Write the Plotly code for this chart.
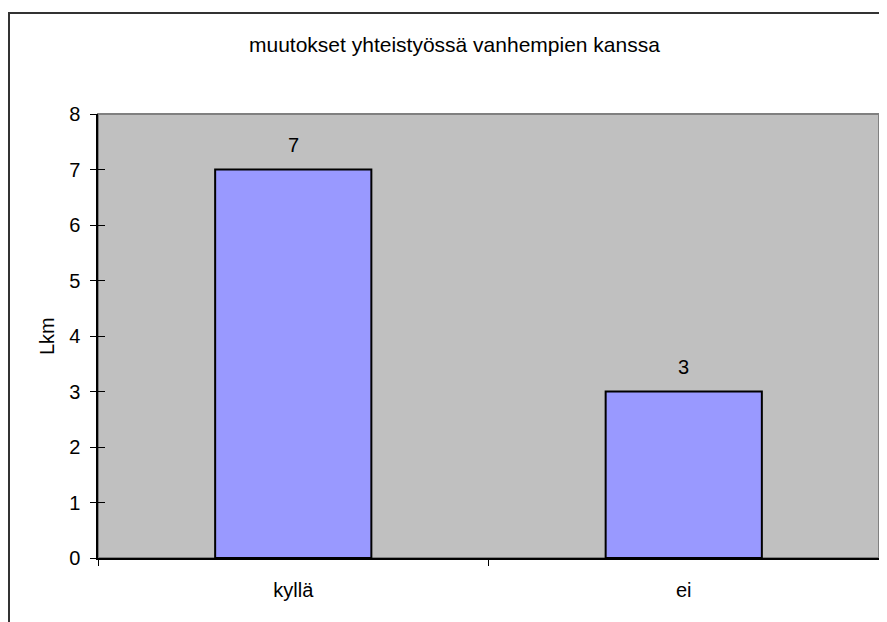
import plotly.graph_objects as go

categories = ["kyllä", "ei"]
values = [7, 3]
title_text = "muutokset yhteistyössä vanhempien kanssa"
y_title = "Lkm"
y_ticks = [0, 1, 2, 3, 4, 5, 6, 7, 8]

FONT = "Liberation Sans, Arial, sans-serif"

# page body has an 8px default margin; plot area in page coords: x 98..879, y 114..558
PW, PH = 781, 444


def px(x):
    return (x - 98) / PW


def py(y):
    return (558 - y) / PH


fig = go.Figure()
fig.add_trace(go.Bar(
    x=categories, y=values, width=0.4,
    marker=dict(color="#9999FF", line=dict(color="black", width=2)),
    hoverinfo="x+y",
))
# invisible trace on overlay axis to carry inside y ticks
fig.add_trace(go.Scatter(x=categories, y=values, yaxis="y2", mode="markers",
                         marker=dict(opacity=0), hoverinfo="skip"))

for c, v in zip(categories, values):
    fig.add_annotation(x=c, y=v, text=str(v), showarrow=False, yshift=25,
                       xanchor="center", yanchor="middle",
                       font=dict(family=FONT, size=20, color="black"))

fig.add_annotation(text=title_text, xref="paper", yref="paper",
                   x=px(454), y=py(45), showarrow=False,
                   xanchor="center", yanchor="middle",
                   font=dict(family=FONT, size=21, color="black"))
fig.add_annotation(text=y_title, xref="paper", yref="paper",
                   x=px(47), y=py(336), showarrow=False, textangle=-90,
                   xanchor="center", yanchor="middle",
                   font=dict(family=FONT, size=20, color="black"))

# plot area border (gray) and outer chart border
fig.add_shape(type="rect", xref="paper", yref="paper", x0=0, x1=1, y0=0, y1=1,
              line=dict(color="#808080", width=2), layer="below")
fig.add_shape(type="rect", xref="paper", yref="paper",
              x0=px(9), x1=px(900), y0=py(640), y1=py(13),
              line=dict(color="#333333", width=2), layer="below")

fig.update_layout(
    width=879, height=614,
    margin=dict(l=90, r=8, t=106, b=64),
    paper_bgcolor="white", plot_bgcolor="#C0C0C0",
    showlegend=False,
    font=dict(family=FONT, size=20, color="black"),
    yaxis2=dict(overlaying="y", side="left", range=[0, 8], tickvals=y_ticks,
                ticks="inside", ticklen=7, tickcolor="black", showticklabels=False,
                showline=False, showgrid=False, zeroline=False),
)
fig.update_xaxes(
    type="category", tickson="boundaries", ticks="outside", ticklen=6,
    tickcolor="black", showline=True, linecolor="black", linewidth=1.5,
    showgrid=False, ticklabelstandoff=13,
    tickfont=dict(family=FONT, size=20),
)
fig.layout.yaxis.update(
    range=[0, 8], tickvals=y_ticks, ticks="outside", ticklen=6,
    tickcolor="black", showline=True, linecolor="black", linewidth=1.5,
    showgrid=False, zeroline=False, ticklabelstandoff=6,
    tickfont=dict(family=FONT, size=20),
)

fig.write_html("out.html")
